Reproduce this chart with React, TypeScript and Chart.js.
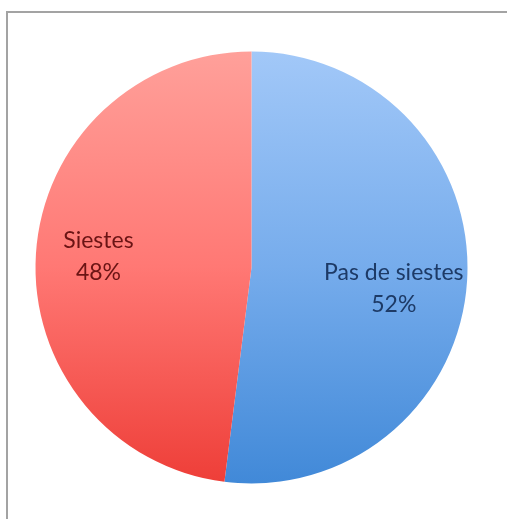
import React, { useEffect, useRef } from "react";
import { Chart, registerables } from "chart.js";

Chart.register(...registerables);

const categories = ["Pas de siestes", "Siestes"];
const values = [52, 48];
const percentLabels = ["52%", "48%"];
const gradientTop = ["#a2c8f8", "#ffa09a"];
const gradientMid = ["#76acec", "#ff7874"];
const gradientBottom = ["#4189d8", "#ee3e38"];
const textColors = ["#1d3a66", "#6a1414"];

const labelPlacement = [
  { frac: 0.66, dy: 12 },
  { frac: 0.71, dy: -1 },
];

const labelPlugin = {
  id: "sliceLabels",
  afterDatasetsDraw(chart: any) {
    const ctx = chart.ctx;
    const meta = chart.getDatasetMeta(0);
    ctx.save();
    ctx.font = "23px Lato, 'Open Sans', sans-serif";
    ctx.textAlign = "center";
    ctx.textBaseline = "middle";
    meta.data.forEach((arc: any, i: number) => {
      const p = arc.getProps(["x", "y", "startAngle", "endAngle", "outerRadius"], true);
      const mid = (p.startAngle + p.endAngle) / 2;
      const r = p.outerRadius * labelPlacement[i].frac;
      const cx = p.x + Math.cos(mid) * r;
      const cy = p.y + Math.sin(mid) * r + labelPlacement[i].dy;
      ctx.fillStyle = textColors[i];
      ctx.fillText(categories[i], cx, cy - 16);
      ctx.fillText(percentLabels[i], cx, cy + 16);
    });
    ctx.restore();
  },
};

export default function App() {
  const ref = useRef<HTMLCanvasElement | null>(null);
  useEffect(() => {
    if (!ref.current) return;
    const chart = new Chart(ref.current, {
      type: "pie",
      data: {
        labels: categories,
        datasets: [
          {
            data: values,
            borderWidth: 0,
            backgroundColor: (c: any) => {
              const ch = c.chart;
              const area = ch.chartArea;
              const i = c.dataIndex ?? 0;
              if (!area) return gradientTop[i];
              const g = ch.ctx.createLinearGradient(0, area.top, 0, area.bottom);
              g.addColorStop(0, gradientTop[i]);
              g.addColorStop(0.5, gradientMid[i]);
              g.addColorStop(1, gradientBottom[i]);
              return g;
            },
          },
        ],
      },
      options: {
        responsive: false,
        animation: false,
        layout: { padding: { left: 35.5, right: 39.5, top: 51.5, bottom: 35.5 } },
        plugins: { legend: { display: false }, tooltip: { enabled: false } },
      },
      plugins: [labelPlugin],
    });
    return () => chart.destroy();
  }, []);
  return (
    <div style={{ position: "fixed", left: 0, top: 0, width: 507, height: 519, background: "#fff", overflow: "hidden" }}>
      <div
        style={{
          position: "absolute",
          left: 6,
          top: 11,
          width: 560,
          height: 560,
          border: "2px solid #a3a3a3",
          boxSizing: "border-box",
        }}
      />
      <canvas ref={ref} width={507} height={519} style={{ position: "absolute", left: 0, top: 0 }} />
    </div>
  );
}
